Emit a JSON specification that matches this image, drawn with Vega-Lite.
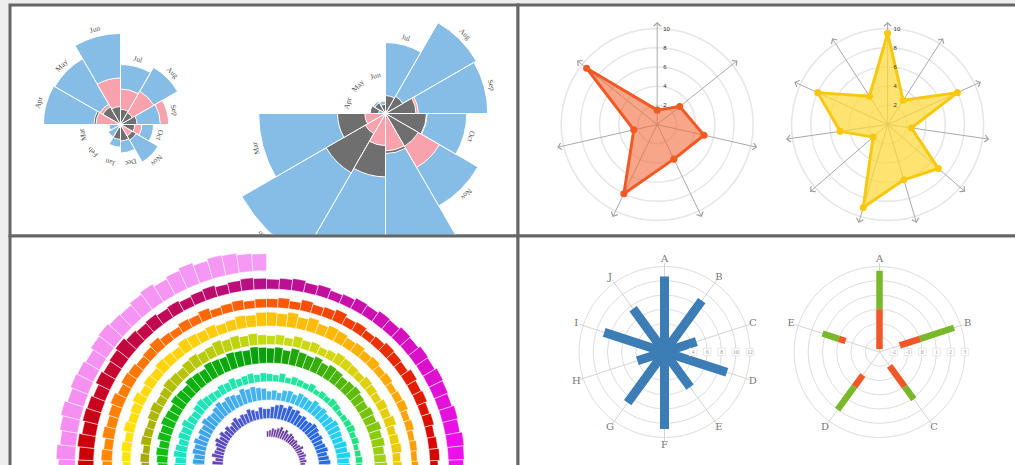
{
  "$schema": "https://vega.github.io/schema/vega-lite/v6.json",
  "background": "#eeeeee",
  "padding": {"left": 8, "top": 3, "right": -3, "bottom": -3},
  "spacing": 0,
  "bounds": "flush",
  "columns": 2,
  "config": {"view": {"stroke": "#666666", "strokeWidth": 3, "fill": "#ffffff"}, "concat": {"spacing": 0}},
  "datasets": {
    "rose": [
      {"period":"1855-56","month":"Jul","i":0,"disease":107.5,"wounds":37.7,"other":6.9},
      {"period":"1855-56","month":"Aug","i":1,"disease":129.9,"wounds":44.1,"other":5.6},
      {"period":"1855-56","month":"Sep","i":2,"disease":47.5,"wounds":69.4,"other":8.2},
      {"period":"1855-56","month":"Oct","i":3,"disease":32.8,"wounds":13.6,"other":6.0},
      {"period":"1855-56","month":"Nov","i":4,"disease":56.1,"wounds":5.2,"other":9.8},
      {"period":"1855-56","month":"Dec","i":5,"disease":24.3,"wounds":0.0,"other":8.1},
      {"period":"1855-56","month":"Jan","i":6,"disease":15.4,"wounds":0.3,"other":6.6},
      {"period":"1855-56","month":"Feb","i":7,"disease":6.2,"wounds":0.0,"other":6.4},
      {"period":"1855-56","month":"Mar","i":8,"disease":3.9,"wounds":0.0,"other":4.2},
      {"period":"1855-56","month":"Apr","i":9,"disease":177.5,"wounds":17.9,"other":21.2},
      {"period":"1855-56","month":"May","i":10,"disease":171.8,"wounds":16.6,"other":12.5},
      {"period":"1855-56","month":"Jun","i":11,"disease":247.6,"wounds":64.5,"other":9.6},
      {"period":"1854-55","month":"Jul","i":0,"disease":150.0,"wounds":0.0,"other":9.6},
      {"period":"1854-55","month":"Aug","i":1,"disease":328.5,"wounds":0.4,"other":11.9},
      {"period":"1854-55","month":"Sep","i":2,"disease":312.2,"wounds":32.1,"other":27.7},
      {"period":"1854-55","month":"Oct","i":3,"disease":197.0,"wounds":51.7,"other":50.1},
      {"period":"1854-55","month":"Nov","i":4,"disease":340.6,"wounds":115.8,"other":42.8},
      {"period":"1854-55","month":"Dec","i":5,"disease":631.5,"wounds":41.7,"other":48.0},
      {"period":"1854-55","month":"Jan","i":6,"disease":1022.8,"wounds":30.7,"other":120.0},
      {"period":"1854-55","month":"Feb","i":7,"disease":822.8,"wounds":16.3,"other":140.1},
      {"period":"1854-55","month":"Mar","i":8,"disease":480.3,"wounds":12.8,"other":68.6},
      {"period":"1854-55","month":"Apr","i":9,"disease":1.4,"wounds":0.0,"other":7.0},
      {"period":"1854-55","month":"May","i":10,"disease":6.2,"wounds":0.0,"other":4.6},
      {"period":"1854-55","month":"Jun","i":11,"disease":4.7,"wounds":0.0,"other":2.5}
    ],
    "radar": [
      {"chart":"A","n":7,"i":0,"v":1.5},{"chart":"A","n":7,"i":1,"v":3.0},{"chart":"A","n":7,"i":2,"v":5.0},
      {"chart":"A","n":7,"i":3,"v":4.0},{"chart":"A","n":7,"i":4,"v":8.0},{"chart":"A","n":7,"i":5,"v":2.5},
      {"chart":"A","n":7,"i":6,"v":9.4},
      {"chart":"B","n":11,"i":0,"v":9.5},{"chart":"B","n":11,"i":1,"v":3.0},{"chart":"B","n":11,"i":2,"v":8.0},
      {"chart":"B","n":11,"i":3,"v":2.5},{"chart":"B","n":11,"i":4,"v":7.0},{"chart":"B","n":11,"i":5,"v":6.0},
      {"chart":"B","n":11,"i":6,"v":9.0},{"chart":"B","n":11,"i":7,"v":2.0},{"chart":"B","n":11,"i":8,"v":5.0},
      {"chart":"B","n":11,"i":9,"v":8.0},{"chart":"B","n":11,"i":10,"v":3.5}
    ],
    "radarRings": [
      {"chart":"A","r":2},{"chart":"A","r":4},{"chart":"A","r":6},{"chart":"A","r":8},{"chart":"A","r":10},
      {"chart":"B","r":2},{"chart":"B","r":4},{"chart":"B","r":6},{"chart":"B","r":8},{"chart":"B","r":10}
    ],
    "polar": [
      {"chart":"L","n":10,"i":0,"cat":"A","v":10.6},{"chart":"L","n":10,"i":1,"cat":"B","v":8.9},
      {"chart":"L","n":10,"i":2,"cat":"C","v":4.7},{"chart":"L","n":10,"i":3,"cat":"D","v":9.2},
      {"chart":"L","n":10,"i":4,"cat":"E","v":6.1},{"chart":"L","n":10,"i":5,"cat":"F","v":10.8},
      {"chart":"L","n":10,"i":6,"cat":"G","v":8.8},{"chart":"L","n":10,"i":7,"cat":"H","v":4.0},
      {"chart":"L","n":10,"i":8,"cat":"I","v":8.9},{"chart":"L","n":10,"i":9,"cat":"J","v":7.5},
      {"chart":"R","n":5,"i":0,"cat":"A","neg":-2.8,"pos":2.7},
      {"chart":"R","n":5,"i":1,"cat":"B","neg":-1.5,"pos":2.5},
      {"chart":"R","n":5,"i":2,"cat":"C","neg":-1.8,"pos":1.1},
      {"chart":"R","n":5,"i":3,"cat":"D","neg":-1.0,"pos":2.0},
      {"chart":"R","n":5,"i":4,"cat":"E","neg":-0.5,"pos":1.2}
    ],
    "polarRings": [
      {"chart":"L","v":2},{"chart":"L","v":4},{"chart":"L","v":6},{"chart":"L","v":8},{"chart":"L","v":10},{"chart":"L","v":12},
      {"chart":"R","v":-2},{"chart":"R","v":-1},{"chart":"R","v":0},{"chart":"R","v":1},{"chart":"R","v":2},{"chart":"R","v":3}
    ],
    "spiral": [
      {"k":0,"h":6},{"k":1,"h":7},{"k":2,"h":9},{"k":3,"h":8},{"k":4,"h":10},{"k":5,"h":12},{"k":6,"h":9},{"k":7,"h":11},{"k":8,"h":8},{"k":9,"h":10},{"k":10,"h":9},{"k":11,"h":7},{"k":12,"h":8},{"k":13,"h":6},{"k":14,"h":7},{"k":15,"h":9},{"k":16,"h":6},{"k":17,"h":7},{"k":18,"h":8},{"k":19,"h":6},{"k":20,"h":7},{"k":21,"h":5},{"k":22,"h":6},
      {"k":67,"h":9},{"k":68,"h":11},{"k":69,"h":8},{"k":70,"h":12},{"k":71,"h":10},{"k":72,"h":9},{"k":73,"h":11},{"k":74,"h":13},{"k":75,"h":10},{"k":76,"h":12},{"k":77,"h":9},{"k":78,"h":11},{"k":79,"h":8},{"k":80,"h":10},{"k":81,"h":12},{"k":82,"h":9},{"k":83,"h":11},{"k":84,"h":10},{"k":85,"h":13},{"k":86,"h":11},{"k":87,"h":9},{"k":88,"h":12},{"k":89,"h":10},
      {"k":90,"h":10},{"k":91,"h":12},{"k":92,"h":14},{"k":93,"h":15},{"k":94,"h":13},{"k":95,"h":16},{"k":96,"h":14},{"k":97,"h":15},{"k":98,"h":12},{"k":99,"h":13},{"k":100,"h":11},{"k":101,"h":12},{"k":102,"h":14},{"k":103,"h":13},{"k":104,"h":11},{"k":105,"h":12},{"k":106,"h":10},{"k":107,"h":11},{"k":108,"h":12},{"k":109,"h":10},{"k":110,"h":11},{"k":111,"h":12},{"k":112,"h":10},
      {"k":157,"h":10},{"k":158,"h":12},{"k":159,"h":11},{"k":160,"h":13},{"k":161,"h":12},{"k":162,"h":14},{"k":163,"h":11},{"k":164,"h":13},{"k":165,"h":12},{"k":166,"h":15},{"k":167,"h":13},{"k":168,"h":12},{"k":169,"h":14},{"k":170,"h":16},{"k":171,"h":13},{"k":172,"h":15},{"k":173,"h":14},{"k":174,"h":12},{"k":175,"h":16},{"k":176,"h":14},{"k":177,"h":15},{"k":178,"h":13},{"k":179,"h":12},
      {"k":180,"h":9},{"k":181,"h":10},{"k":182,"h":8},{"k":183,"h":11},{"k":184,"h":12},{"k":185,"h":10},{"k":186,"h":13},{"k":187,"h":12},{"k":188,"h":11},{"k":189,"h":14},{"k":190,"h":12},{"k":191,"h":13},{"k":192,"h":11},{"k":193,"h":12},{"k":194,"h":14},{"k":195,"h":13},{"k":196,"h":12},{"k":197,"h":11},{"k":198,"h":13},{"k":199,"h":12},{"k":200,"h":14},{"k":201,"h":12},{"k":202,"h":13},
      {"k":247,"h":12},{"k":248,"h":11},{"k":249,"h":13},{"k":250,"h":12},{"k":251,"h":10},{"k":252,"h":12},{"k":253,"h":11},{"k":254,"h":13},{"k":255,"h":10},{"k":256,"h":9},{"k":257,"h":11},{"k":258,"h":12},{"k":259,"h":10},{"k":260,"h":9},{"k":261,"h":8},{"k":262,"h":10},{"k":263,"h":9},{"k":264,"h":11},{"k":265,"h":8},{"k":266,"h":9},{"k":267,"h":10},{"k":268,"h":8},{"k":269,"h":9},
      {"k":270,"h":8},{"k":271,"h":7},{"k":272,"h":9},{"k":273,"h":6},{"k":274,"h":8},{"k":275,"h":7},{"k":276,"h":6},{"k":277,"h":8},{"k":278,"h":5},{"k":279,"h":7},{"k":280,"h":6},{"k":281,"h":8},{"k":282,"h":7},{"k":283,"h":5},{"k":284,"h":6},{"k":285,"h":7},{"k":286,"h":8},{"k":287,"h":6},{"k":288,"h":7},{"k":289,"h":5},{"k":290,"h":6},{"k":291,"h":7},{"k":292,"h":6},
      {"k":337,"h":10},{"k":338,"h":11},{"k":339,"h":12},{"k":340,"h":10},{"k":341,"h":13},{"k":342,"h":12},{"k":343,"h":14},{"k":344,"h":13},{"k":345,"h":12},{"k":346,"h":15},{"k":347,"h":14},{"k":348,"h":13},{"k":349,"h":16},{"k":350,"h":15},{"k":351,"h":14},{"k":352,"h":17},{"k":353,"h":16},{"k":354,"h":15},{"k":355,"h":17},{"k":356,"h":16},{"k":357,"h":15},{"k":358,"h":17},{"k":359,"h":16},
      {"k":360,"h":15},{"k":361,"h":16},{"k":362,"h":14},{"k":363,"h":17},{"k":364,"h":15},{"k":365,"h":14},{"k":366,"h":16},{"k":367,"h":13},{"k":368,"h":15},{"k":369,"h":14},{"k":370,"h":12},{"k":371,"h":13},{"k":372,"h":14},{"k":373,"h":12},{"k":374,"h":11},{"k":375,"h":13},{"k":376,"h":12},{"k":377,"h":14},{"k":378,"h":12},{"k":379,"h":13},{"k":380,"h":11},{"k":381,"h":12},{"k":382,"h":13},
      {"k":427,"h":8},{"k":428,"h":9},{"k":429,"h":7},{"k":430,"h":10},{"k":431,"h":9},{"k":432,"h":8},{"k":433,"h":10},{"k":434,"h":11},{"k":435,"h":9},{"k":436,"h":10},{"k":437,"h":12},{"k":438,"h":11},{"k":439,"h":10},{"k":440,"h":12},{"k":441,"h":13},{"k":442,"h":11},{"k":443,"h":12},{"k":444,"h":14},{"k":445,"h":12},{"k":446,"h":13},{"k":447,"h":11},{"k":448,"h":12},{"k":449,"h":10},
      {"k":450,"h":9},{"k":451,"h":10},{"k":452,"h":8},{"k":453,"h":11},{"k":454,"h":9},{"k":455,"h":10},{"k":456,"h":8},{"k":457,"h":9},{"k":458,"h":11},{"k":459,"h":10},{"k":460,"h":9},{"k":461,"h":8},{"k":462,"h":10},{"k":463,"h":9},{"k":464,"h":8},{"k":465,"h":10},{"k":466,"h":9},{"k":467,"h":11},{"k":468,"h":8},{"k":469,"h":9},{"k":470,"h":10},{"k":471,"h":8},{"k":472,"h":9},
      {"k":517,"h":8},{"k":518,"h":9},{"k":519,"h":10},{"k":520,"h":8},{"k":521,"h":11},{"k":522,"h":9},{"k":523,"h":10},{"k":524,"h":12},{"k":525,"h":9},{"k":526,"h":11},{"k":527,"h":10},{"k":528,"h":12},{"k":529,"h":11},{"k":530,"h":10},{"k":531,"h":13},{"k":532,"h":12},{"k":533,"h":11},{"k":534,"h":12},{"k":535,"h":10},{"k":536,"h":11},{"k":537,"h":13},{"k":538,"h":12},{"k":539,"h":14},
      {"k":540,"h":14},{"k":541,"h":13},{"k":542,"h":15},{"k":543,"h":12},{"k":544,"h":14},{"k":545,"h":11},{"k":546,"h":13},{"k":547,"h":12},{"k":548,"h":10},{"k":549,"h":11},{"k":550,"h":9},{"k":551,"h":10},{"k":552,"h":8},{"k":553,"h":9},{"k":554,"h":7},{"k":555,"h":8},{"k":556,"h":9},{"k":557,"h":7},{"k":558,"h":8},{"k":559,"h":6},{"k":560,"h":7},{"k":561,"h":6},{"k":562,"h":7},
      {"k":607,"h":10},{"k":608,"h":11},{"k":609,"h":9},{"k":610,"h":12},{"k":611,"h":10},{"k":612,"h":11},{"k":613,"h":13},{"k":614,"h":10},{"k":615,"h":12},{"k":616,"h":11},{"k":617,"h":9},{"k":618,"h":10},{"k":619,"h":12},{"k":620,"h":9},{"k":621,"h":8},{"k":622,"h":10},{"k":623,"h":9},{"k":624,"h":11},{"k":625,"h":8},{"k":626,"h":9},{"k":627,"h":10},{"k":628,"h":8},{"k":629,"h":9},
      {"k":630,"h":9},{"k":631,"h":10},{"k":632,"h":8},{"k":633,"h":11},{"k":634,"h":9},{"k":635,"h":10},{"k":636,"h":12},{"k":637,"h":9},{"k":638,"h":10},{"k":639,"h":8},{"k":640,"h":9},{"k":641,"h":11},{"k":642,"h":10},{"k":643,"h":9},{"k":644,"h":12},{"k":645,"h":10},{"k":646,"h":11},{"k":647,"h":9},{"k":648,"h":10},{"k":649,"h":8},{"k":650,"h":9},{"k":651,"h":10},{"k":652,"h":8},
      {"k":697,"h":16},{"k":698,"h":15},{"k":699,"h":17},{"k":700,"h":14},{"k":701,"h":16},{"k":702,"h":15},{"k":703,"h":13},{"k":704,"h":16},{"k":705,"h":14},{"k":706,"h":15},{"k":707,"h":17},{"k":708,"h":14},{"k":709,"h":12},{"k":710,"h":13},{"k":711,"h":11},{"k":712,"h":12},{"k":713,"h":10},{"k":714,"h":11},{"k":715,"h":12},{"k":716,"h":10},{"k":717,"h":11},{"k":718,"h":12},{"k":719,"h":11},
      {"k":720,"h":10},{"k":721,"h":11},{"k":722,"h":12},{"k":723,"h":10},{"k":724,"h":11},{"k":725,"h":9},{"k":726,"h":10},{"k":727,"h":12},{"k":728,"h":11},{"k":729,"h":13},{"k":730,"h":12},{"k":731,"h":14},{"k":732,"h":13},{"k":733,"h":15},{"k":734,"h":14},{"k":735,"h":16},{"k":736,"h":15},{"k":737,"h":14},{"k":738,"h":16},{"k":739,"h":15},{"k":740,"h":17},{"k":741,"h":16},{"k":742,"h":15},
      {"k":787,"h":17},{"k":788,"h":19},{"k":789,"h":16},{"k":790,"h":18},{"k":791,"h":20},{"k":792,"h":17},{"k":793,"h":19},{"k":794,"h":18},{"k":795,"h":16},{"k":796,"h":19},{"k":797,"h":20},{"k":798,"h":18},{"k":799,"h":17},{"k":800,"h":19},{"k":801,"h":21},{"k":802,"h":18},{"k":803,"h":20},{"k":804,"h":22},{"k":805,"h":19},{"k":806,"h":21},{"k":807,"h":20},{"k":808,"h":18},{"k":809,"h":17}
    ]
  },
  "concat": [
    {
      "width": 508,
      "height": 231,
      "data": {"name": "rose"},
      "encoding": {
        "x": {"field": "period", "type": "nominal", "scale": {"type": "point", "domain": ["1855-56", "1854-55"], "range": [110.5, 375.5], "padding": 0}, "axis": null},
        "y": {"field": "period", "type": "nominal", "scale": {"type": "point", "domain": ["1855-56", "1854-55"], "range": [119.5, 108.5], "padding": 0}, "axis": null}
      },
      "layer": [
        {
          "transform": [
            {"fold": ["disease", "wounds", "other"], "as": ["cause", "rate"]},
            {"calculate": "datum.i + 1", "as": "i2"}
          ],
          "mark": {"type": "arc", "stroke": "#ffffff", "strokeWidth": 1, "clip": true},
          "encoding": {
            "theta": {"field": "i", "type": "quantitative", "scale": {"domain": [0, 12]}, "stack": null},
            "theta2": {"field": "i2"},
            "radius": {"field": "rate", "type": "quantitative", "scale": {"type": "sqrt", "domain": [0, 1000], "range": [0, 183], "zero": true}, "stack": null},
            "color": {"field": "cause", "type": "nominal", "scale": {"domain": ["disease", "wounds", "other"], "range": ["#86bde6", "#f8a2ae", "#6f6f6f"]}, "legend": null},
            "order": {"field": "rate", "type": "quantitative", "sort": "descending"}
          }
        },
        {
          "transform": [
            {"calculate": "datum.i + 0.5", "as": "mid"},
            {"calculate": "max(datum.disease, datum.wounds, datum.other, 30)", "as": "lr"},
            {"calculate": "(datum.i + 0.5) * 30", "as": "ang"}
          ],
          "mark": {"type": "text", "radiusOffset": 7, "font": "Liberation Serif", "fontSize": 7.5, "fill": "#555555", "clip": true},
          "encoding": {
            "theta": {"field": "mid", "type": "quantitative", "scale": {"domain": [0, 12]}, "stack": null},
            "radius": {"field": "lr", "type": "quantitative", "scale": {"type": "sqrt", "domain": [0, 1000], "range": [0, 183], "zero": true}, "stack": null},
            "text": {"field": "month"},
            "angle": {"field": "ang", "type": "quantitative", "scale": null}
          }
        }
      ]
    },
    {
      "width": 499,
      "height": 231,
      "encoding": {
        "x": {"field": "px", "type": "quantitative", "scale": {"domain": [-14.5, 37.479], "nice": false, "zero": false}, "axis": null},
        "y": {"field": "py", "type": "quantitative", "scale": {"domain": [-11.61, 12.45], "nice": false, "zero": false}, "axis": null}
      },
      "layer": [
        {
          "data": {"name": "radarRings"},
          "transform": [
            {"calculate": "datum.chart == 'A' ? 0 : 24", "as": "px"},
            {"calculate": "0", "as": "py"}
          ],
          "mark": {"type": "arc", "filled": false, "stroke": "#e6e6e6", "strokeWidth": 1.5, "theta": 0, "theta2": 6.2832, "clip": true},
          "encoding": {
            "radius": {"field": "r", "type": "quantitative", "scale": {"type": "linear", "domain": [0, 10], "range": [0, 96], "zero": true}, "stack": null}
          }
        },
        {
          "data": {"name": "radar"},
          "transform": [
            {"calculate": "datum.chart == 'A' ? 0 : 24", "as": "off"},
            {"calculate": "2 * PI * datum.i / datum.n", "as": "th"},
            {"calculate": "datum.off", "as": "px"},
            {"calculate": "0", "as": "py"},
            {"calculate": "datum.off + 10.6 * sin(datum.th)", "as": "px2"},
            {"calculate": "10.6 * cos(datum.th)", "as": "py2"}
          ],
          "mark": {"type": "rule", "stroke": "#aaaaaa", "strokeWidth": 1, "clip": true},
          "encoding": {"x2": {"field": "px2"}, "y2": {"field": "py2"}}
        },
        {
          "data": {"name": "radar"},
          "transform": [
            {"calculate": "datum.chart == 'A' ? 0 : 24", "as": "off"},
            {"calculate": "2 * PI * datum.i / datum.n", "as": "th"},
            {"calculate": "datum.off + 10.6 * sin(datum.th)", "as": "px"},
            {"calculate": "10.6 * cos(datum.th)", "as": "py"},
            {"calculate": "datum.th * 180 / PI", "as": "deg"}
          ],
          "mark": {"type": "point", "shape": "M-1,1L0,0L1,1", "filled": false, "stroke": "#a0a0a0", "strokeWidth": 1.2, "size": 50, "opacity": 1, "clip": true},
          "encoding": {"angle": {"field": "deg", "type": "quantitative", "scale": null}}
        },
        {
          "data": {"name": "radar"},
          "transform": [
            {"filter": "datum.chart == 'A'"},
            {"calculate": "2 * PI * datum.i / datum.n", "as": "th"},
            {"calculate": "datum.v * sin(datum.th)", "as": "px"},
            {"calculate": "datum.v * cos(datum.th)", "as": "py"}
          ],
          "mark": {"type": "line", "interpolate": "linear-closed", "fill": "#f26b3a", "fillOpacity": 0.6, "stroke": "#f15a24", "strokeWidth": 3, "strokeJoin": "round", "clip": true},
          "encoding": {"order": {"field": "i", "type": "quantitative"}}
        },
        {
          "data": {"name": "radar"},
          "transform": [
            {"filter": "datum.chart == 'B'"},
            {"calculate": "2 * PI * datum.i / datum.n", "as": "th"},
            {"calculate": "24 + datum.v * sin(datum.th)", "as": "px"},
            {"calculate": "datum.v * cos(datum.th)", "as": "py"}
          ],
          "mark": {"type": "line", "interpolate": "linear-closed", "fill": "#fcd93a", "fillOpacity": 0.72, "stroke": "#f8c810", "strokeWidth": 3, "strokeJoin": "round", "clip": true},
          "encoding": {"order": {"field": "i", "type": "quantitative"}}
        },
        {
          "data": {"name": "radar"},
          "transform": [
            {"calculate": "datum.chart == 'A' ? 0 : 24", "as": "off"},
            {"calculate": "2 * PI * datum.i / datum.n", "as": "th"},
            {"calculate": "datum.off + datum.v * sin(datum.th)", "as": "px"},
            {"calculate": "datum.v * cos(datum.th)", "as": "py"}
          ],
          "mark": {"type": "circle", "size": 50, "opacity": 1, "clip": true},
          "encoding": {
            "color": {"field": "chart", "type": "nominal", "scale": {"domain": ["A", "B"], "range": ["#f15a24", "#f8c810"]}, "legend": null}
          }
        },
        {
          "data": {"name": "radarRings"},
          "transform": [
            {"calculate": "datum.chart == 'A' ? 0 : 24", "as": "px"},
            {"calculate": "datum.r", "as": "py"}
          ],
          "mark": {"type": "text", "align": "left", "baseline": "middle", "dx": 6, "fontSize": 6, "font": "Liberation Sans", "fill": "#333333", "clip": true},
          "encoding": {"text": {"field": "r"}}
        }
      ]
    },
    {
      "width": 508,
      "height": 231,
      "data": {"name": "spiral"},
      "transform": [
        {"calculate": "datum.k + 1", "as": "k2"},
        {"calculate": "29.5 + 18.5 * datum.k / 90", "as": "rb"},
        {"calculate": "datum.rb + datum.h", "as": "rt"}
      ],
      "mark": {"type": "arc", "clip": true, "stroke": "#ffffff", "strokeWidth": 0.5},
      "encoding": {
        "x": {"datum": 0, "type": "quantitative", "scale": {"domain": [-256.5, 251.5], "nice": false, "zero": false}, "axis": null},
        "y": {"datum": 0, "type": "quantitative", "scale": {"domain": [-0.5, 230.5], "nice": false, "zero": false}, "axis": null},
        "theta": {"field": "k", "type": "quantitative", "scale": {"domain": [0, 810], "range": [0, 56.5487]}, "stack": null},
        "theta2": {"field": "k2"},
        "radius": {"field": "rb", "type": "quantitative", "scale": {"type": "linear", "domain": [0, 250], "range": [0, 250], "zero": true}, "stack": null},
        "radius2": {"field": "rt"},
        "color": {
          "field": "k", "type": "quantitative", "legend": null,
          "scale": {
            "interpolate": "rgb",
            "domain": [0, 22, 67, 90, 112, 157, 180, 202, 247, 270, 292, 337, 360, 382, 427, 450, 472, 517, 540, 562, 607, 630, 652, 697, 720, 742, 787, 809],
            "range": ["#6a3d9a", "#6b3fa6", "#6a40b0", "#3a5fd8", "#1c6ee6", "#3c9ce8", "#45b5ee", "#18d6f2", "#1de2c4", "#22e6a8", "#1fe07c", "#12c214", "#0a9e0a", "#a8d40c", "#a3a800", "#c4dc10", "#f0c808", "#ffe60a", "#ffc20a", "#ff9a00", "#ff8a00", "#ff5a08", "#d40000", "#cc0000", "#b8108c", "#f010f0", "#f58cf0", "#f59af5"]
          }
        }
      }
    },
    {
      "width": 499,
      "height": 231,
      "encoding": {
        "x": {"field": "px", "type": "quantitative", "scale": {"domain": [-1.7135, 4.1228], "nice": false, "zero": false}, "axis": null},
        "y": {"field": "py", "type": "quantitative", "scale": {"domain": [-1.345, 1.3567], "nice": false, "zero": false}, "axis": null}
      },
      "layer": [
        {
          "data": {"name": "polarRings"},
          "transform": [
            {"calculate": "datum.chart == 'L' ? 0 : 2.5146", "as": "px"},
            {"calculate": "0", "as": "py"},
            {"calculate": "datum.chart == 'L' ? datum.v / 12 : (datum.v + 3) / 6", "as": "nr"}
          ],
          "mark": {"type": "arc", "filled": false, "stroke": "#dddddd", "strokeWidth": 1, "theta": 0, "theta2": 6.2832, "clip": true},
          "encoding": {
            "radius": {"field": "nr", "type": "quantitative", "scale": {"type": "linear", "domain": [0, 1], "range": [0, 85.5], "zero": true}, "stack": null}
          }
        },
        {
          "data": {"name": "polar"},
          "transform": [
            {"calculate": "datum.chart == 'L' ? 0 : 2.5146", "as": "off"},
            {"calculate": "2 * PI * datum.i / datum.n", "as": "th"},
            {"calculate": "datum.off", "as": "px"},
            {"calculate": "0", "as": "py"},
            {"calculate": "datum.off + 1.04 * sin(datum.th)", "as": "px2"},
            {"calculate": "1.04 * cos(datum.th)", "as": "py2"}
          ],
          "mark": {"type": "rule", "stroke": "#d4d4d4", "strokeWidth": 1, "clip": true},
          "encoding": {"x2": {"field": "px2"}, "y2": {"field": "py2"}}
        },
        {
          "data": {"name": "polar"},
          "transform": [
            {"filter": "datum.chart == 'L'"},
            {"calculate": "2 * PI * datum.i / datum.n", "as": "th"},
            {"calculate": "0", "as": "px"},
            {"calculate": "0", "as": "py"},
            {"calculate": "datum.v / 12 * sin(datum.th)", "as": "px2"},
            {"calculate": "datum.v / 12 * cos(datum.th)", "as": "py2"}
          ],
          "mark": {"type": "rule", "stroke": "#3d7db6", "strokeWidth": 9, "strokeCap": "butt", "clip": true},
          "encoding": {"x2": {"field": "px2"}, "y2": {"field": "py2"}}
        },
        {
          "data": {"name": "polar"},
          "transform": [
            {"filter": "datum.chart == 'R'"},
            {"calculate": "2 * PI * datum.i / datum.n", "as": "th"},
            {"calculate": "2.5146 + 0.5 * sin(datum.th)", "as": "px"},
            {"calculate": "0.5 * cos(datum.th)", "as": "py"},
            {"calculate": "2.5146 + (datum.neg + 3) / 6 * sin(datum.th)", "as": "px2"},
            {"calculate": "(datum.neg + 3) / 6 * cos(datum.th)", "as": "py2"}
          ],
          "mark": {"type": "rule", "stroke": "#f0582a", "strokeWidth": 6.5, "strokeCap": "butt", "clip": true},
          "encoding": {"x2": {"field": "px2"}, "y2": {"field": "py2"}}
        },
        {
          "data": {"name": "polar"},
          "transform": [
            {"filter": "datum.chart == 'R'"},
            {"calculate": "2 * PI * datum.i / datum.n", "as": "th"},
            {"calculate": "2.5146 + 0.5 * sin(datum.th)", "as": "px"},
            {"calculate": "0.5 * cos(datum.th)", "as": "py"},
            {"calculate": "2.5146 + (datum.pos + 3) / 6 * sin(datum.th)", "as": "px2"},
            {"calculate": "(datum.pos + 3) / 6 * cos(datum.th)", "as": "py2"}
          ],
          "mark": {"type": "rule", "stroke": "#7ab82b", "strokeWidth": 6.5, "strokeCap": "butt", "clip": true},
          "encoding": {"x2": {"field": "px2"}, "y2": {"field": "py2"}}
        },
        {
          "data": {"name": "polarRings"},
          "transform": [
            {"filter": "datum.chart == 'R' || datum.v >= 4"},
            {"calculate": "datum.chart == 'L' ? datum.v / 12 : 2.5146 + (datum.v + 3) / 6", "as": "px"},
            {"calculate": "0", "as": "py"}
          ],
          "mark": {"type": "point", "shape": "square", "filled": true, "fill": "#ffffff", "stroke": "#e2e2e2", "strokeWidth": 0.8, "size": 55, "opacity": 1, "clip": true}
        },
        {
          "data": {"name": "polarRings"},
          "transform": [
            {"filter": "datum.chart == 'R' || datum.v >= 4"},
            {"calculate": "datum.chart == 'L' ? datum.v / 12 : 2.5146 + (datum.v + 3) / 6", "as": "px"},
            {"calculate": "0", "as": "py"}
          ],
          "mark": {"type": "text", "align": "center", "baseline": "middle", "fontSize": 5.5, "font": "Liberation Serif", "fill": "#999999", "clip": true},
          "encoding": {"text": {"field": "v"}}
        },
        {
          "data": {"name": "polar"},
          "transform": [
            {"calculate": "datum.chart == 'L' ? 0 : 2.5146", "as": "off"},
            {"calculate": "2 * PI * datum.i / datum.n", "as": "th"},
            {"calculate": "datum.off + 1.085 * sin(datum.th)", "as": "px"},
            {"calculate": "1.085 * cos(datum.th)", "as": "py"}
          ],
          "mark": {"type": "text", "align": "center", "baseline": "middle", "fontSize": 10, "font": "DejaVu Serif", "fill": "#777777", "clip": true},
          "encoding": {"text": {"field": "cat"}}
        }
      ]
    }
  ]
}
